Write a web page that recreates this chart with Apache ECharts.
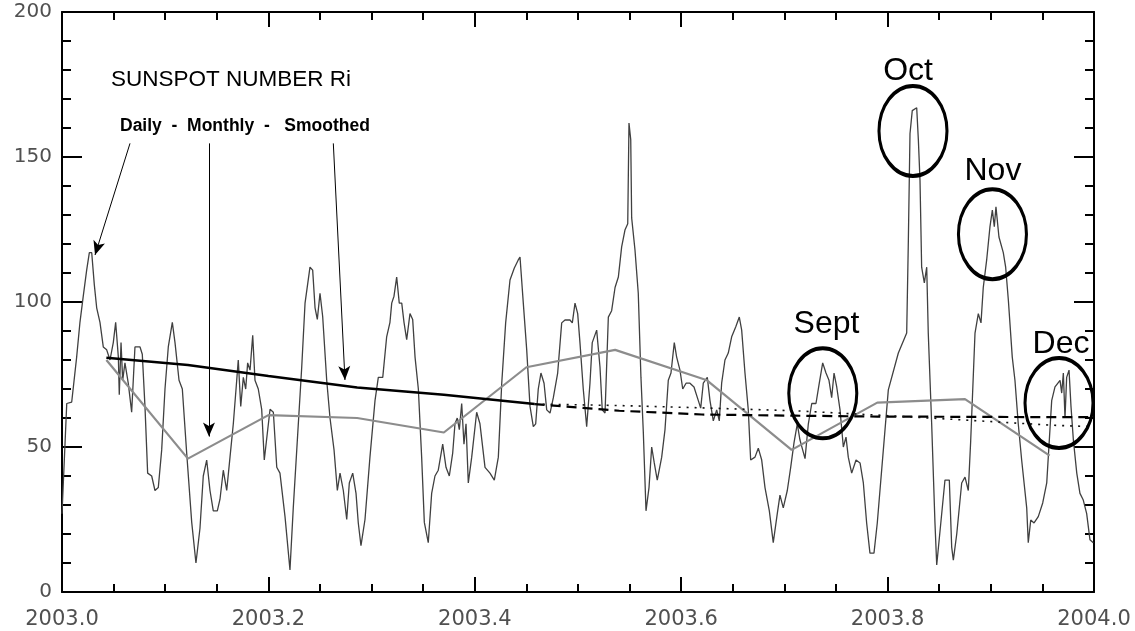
<!DOCTYPE html>
<html>
<head>
<meta charset="utf-8">
<script src="https://cdn.jsdelivr.net/npm/echarts@6/dist/echarts.min.js"></script>
<style>
    html, body { margin: 0; padding: 0; background: #fff; }
    #chart { width: 1135px; height: 631px; }
</style>
</head>
<body>
<div id="chart"></div>
<script>
// Daily sunspot number Ri for 2003 (decimal year / value)
const dailyYear = [
    2003.0000, 2003.0046, 2003.0094, 2003.0142, 2003.0174, 2003.0206, 2003.0239, 2003.0265, 2003.0288, 2003.0313,
    2003.0336, 2003.0368, 2003.0400, 2003.0433, 2003.0465, 2003.0497, 2003.0520, 2003.0546, 2003.0555, 2003.0572,
    2003.0588, 2003.0610, 2003.0642, 2003.0675, 2003.0707, 2003.0756, 2003.0778, 2003.0804, 2003.0830, 2003.0869,
    2003.0901, 2003.0933, 2003.0966, 2003.0998, 2003.1030, 2003.1069, 2003.1095, 2003.1134, 2003.1166, 2003.1208,
    2003.1257, 2003.1298, 2003.1337, 2003.1369, 2003.1402, 2003.1434, 2003.1466, 2003.1505, 2003.1531, 2003.1563,
    2003.1596, 2003.1628, 2003.1660, 2003.1693, 2003.1708, 2003.1732, 2003.1757, 2003.1780, 2003.1799, 2003.1822,
    2003.1848, 2003.1870, 2003.1902, 2003.1935, 2003.1960, 2003.2016, 2003.2048, 2003.2081, 2003.2112, 2003.2161,
    2003.2209, 2003.2241, 2003.2290, 2003.2323, 2003.2355, 2003.2403, 2003.2429, 2003.2452, 2003.2474, 2003.2500,
    2003.2526, 2003.2565, 2003.2597, 2003.2636, 2003.2668, 2003.2694, 2003.2726, 2003.2759, 2003.2784, 2003.2817,
    2003.2849, 2003.2871, 2003.2897, 2003.2936, 2003.2984, 2003.3033, 2003.3065, 2003.3108, 2003.3146, 2003.3178,
    2003.3195, 2003.3217, 2003.3243, 2003.3268, 2003.3292, 2003.3314, 2003.3340, 2003.3372, 2003.3398, 2003.3421,
    2003.3453, 2003.3485, 2003.3511, 2003.3549, 2003.3582, 2003.3614, 2003.3646, 2003.3689, 2003.3721, 2003.3753,
    2003.3786, 2003.3808, 2003.3830, 2003.3850, 2003.3873, 2003.3895, 2003.3915, 2003.3937, 2003.3970, 2003.4018,
    2003.4050, 2003.4099, 2003.4147, 2003.4189, 2003.4228, 2003.4261, 2003.4299, 2003.4341, 2003.4383, 2003.4421,
    2003.4438, 2003.4470, 2003.4503, 2003.4535, 2003.4567, 2003.4590, 2003.4615, 2003.4641, 2003.4671, 2003.4697,
    2003.4729, 2003.4761, 2003.4803, 2003.4842, 2003.4874, 2003.4922, 2003.4945, 2003.4971, 2003.4997, 2003.5019,
    2003.5051, 2003.5084, 2003.5116, 2003.5138, 2003.5181, 2003.5213, 2003.5235, 2003.5262, 2003.5294, 2003.5326,
    2003.5359, 2003.5391, 2003.5423, 2003.5455, 2003.5482, 2003.5494, 2003.5511, 2003.5520, 2003.5552, 2003.5584,
    2003.5610, 2003.5633, 2003.5659, 2003.5688, 2003.5714, 2003.5739, 2003.5768, 2003.5811, 2003.5843, 2003.5875,
    2003.5901, 2003.5933, 2003.5956, 2003.5988, 2003.6015, 2003.6047, 2003.6085, 2003.6124, 2003.6166, 2003.6189,
    2003.6214, 2003.6253, 2003.6279, 2003.6311, 2003.6344, 2003.6369, 2003.6392, 2003.6424, 2003.6456, 2003.6489,
    2003.6528, 2003.6563, 2003.6586, 2003.6618, 2003.6650, 2003.6673, 2003.6715, 2003.6747, 2003.6780, 2003.6812,
    2003.6854, 2003.6892, 2003.6931, 2003.6957, 2003.6989, 2003.7028, 2003.7061, 2003.7093, 2003.7125, 2003.7151,
    2003.7177, 2003.7200, 2003.7232, 2003.7265, 2003.7306, 2003.7338, 2003.7371, 2003.7403, 2003.7432, 2003.7458,
    2003.7481, 2003.7507, 2003.7539, 2003.7571, 2003.7597, 2003.7619, 2003.7652, 2003.7694, 2003.7733, 2003.7765,
    2003.7797, 2003.7829, 2003.7868, 2003.7900, 2003.7926, 2003.8007, 2003.8104, 2003.8185, 2003.8201, 2003.8217,
    2003.8239, 2003.8282, 2003.8298, 2003.8314, 2003.8330, 2003.8356, 2003.8379, 2003.8394, 2003.8427, 2003.8459,
    2003.8476, 2003.8556, 2003.8598, 2003.8621, 2003.8637, 2003.8670, 2003.8718, 2003.8750, 2003.8782, 2003.8805,
    2003.8847, 2003.8879, 2003.8905, 2003.8927, 2003.8960, 2003.8992, 2003.9015, 2003.9034, 2003.9050, 2003.9079,
    2003.9121, 2003.9144, 2003.9170, 2003.9208, 2003.9234, 2003.9266, 2003.9299, 2003.9348, 2003.9363, 2003.9387,
    2003.9419, 2003.9460, 2003.9503, 2003.9542, 2003.9557, 2003.9590, 2003.9622, 2003.9671, 2003.9687, 2003.9703,
    2003.9719, 2003.9735, 2003.9758, 2003.9777, 2003.9800, 2003.9833, 2003.9864, 2003.9896, 2003.9929, 2003.9961,
    2003.9993
];
const dailyRi = [
    27, 65, 65.5, 81, 93, 102, 111, 117, 117, 106,
    98, 93, 84.5, 83.5, 80, 86, 93, 81, 68, 86,
    73, 79, 72, 62, 84.5, 84.5, 82, 64, 41, 40,
    35, 36, 49, 70, 84.5, 93, 86, 73, 70, 48,
    24, 10, 22, 40, 45.5, 35, 28, 28, 32, 42,
    35, 46.5, 58, 73, 80, 64, 74, 70, 79, 76.5,
    88.5, 73, 70, 63, 45.5, 63, 62, 43, 41, 26,
    7.6, 29, 58, 77.6, 99.6, 112, 111, 98, 94, 103,
    95, 73, 60, 49, 35, 41, 35, 25, 37.6, 41,
    34, 23.8, 16, 25, 46.5, 66, 74, 74, 88, 93,
    99.6, 102, 108.6, 99.6, 99.6, 93, 87, 96, 94, 81,
    70, 46.5, 24, 17, 34, 40, 42, 51, 43, 40,
    48, 58, 60, 56, 65, 51, 58, 37.6, 46.5, 62,
    58, 43, 41, 38.6, 46.5, 72, 92.8, 107.6, 111.7, 114.5,
    115.5, 99.6, 83.5, 64, 57, 58, 70, 75.5, 72, 62.8,
    61.7, 67, 75.5, 92.8, 93.8, 93.8, 92.8, 99.6, 96, 86,
    70, 57, 72, 86, 90.3, 77.6, 62.8, 61.7, 94.8, 97,
    105, 108.6, 119, 124.8, 127, 161.7, 156, 129, 118, 103,
    74, 55, 28, 36, 50, 44.5, 38.6, 46.5, 56, 73,
    75.5, 86, 81, 76.5, 70, 72, 72, 70.7, 66, 63.4,
    72, 74, 66, 59, 62.8, 59, 72, 80, 82.4, 88,
    91.4, 94.8, 90.3, 75.5, 62.8, 45.5, 46.5, 49.6, 45.5, 36,
    28, 17, 27, 33.4, 29, 35, 43, 51.4, 58, 52.4,
    49, 46, 58, 65, 65, 72, 79, 75.5, 73, 67,
    75.5, 70.7, 62.8, 50, 53.4, 46.5, 41, 45.5, 44.5, 37.6,
    23.8, 13.4, 13.4, 23.8, 35, 69.7, 82.4, 89.3, 121, 158,
    166, 167, 156, 142, 112, 106.6, 112, 89.3, 58, 23.8,
    9.3, 38.6, 38.6, 15.5, 11, 20, 37.6, 39.6, 35, 52,
    89.3, 96, 92.8, 105, 114.5, 126, 131.7, 126, 132.8, 122.4,
    117, 112, 100.7, 81, 73, 58, 45.5, 29, 17, 24.8,
    23.8, 26, 30.7, 37.6, 46.5, 66, 70.7, 73, 68.6, 75.5,
    60, 74, 76.5, 64, 52.4, 41, 34, 31.7, 27, 18,
    17
];

// Monthly means (grey line)
const monthlyYear = [2003.043, 2003.122, 2003.200, 2003.286, 2003.370, 2003.450, 2003.536, 2003.625, 2003.707, 2003.790, 2003.875, 2003.957];
const monthlyRi = [80, 46, 61, 60, 55, 77.5, 83.5, 73, 49, 65.3, 66.5, 47];

// Smoothed (solid black) and the two forecasts after it (dashed / dotted)
const smoothedYear = [2003.043, 2003.122, 2003.200, 2003.286, 2003.370, 2003.458];
const smoothedRi = [80.8, 78.3, 74.5, 70.5, 68, 64.8];
const forecastYear = [2003.458, 2003.540, 2003.620, 2003.710, 2003.790, 2003.875, 2003.960, 2004.000];
const forecastDashed = [64.8, 62.5, 61.2, 60.8, 60.5, 60.4, 60.3, 60.3];
const forecastDotted = [64.8, 64.3, 63.5, 62.5, 61, 59.3, 57.5, 57];

// Circled months
const circleNames = ['Sept', 'Oct', 'Nov', 'Dec'];
const circleYear = [2003.7372, 2003.8246, 2003.9016, 2003.9661];
const circleRi = [68.5, 159, 123.4, 65.2];
const circleLabelYear = [2003.7408, 2003.8198, 2003.9021, 2003.9680];
const circleLabelRi = [92.5, 179.5, 145, 85.5];

// Text notes and the arrows from "Daily - Monthly - Smoothed"
const titleText = 'SUNSPOT NUMBER Ri';
const titlePos = [2003.0475, 176.6];
const legendText = 'Daily  -  Monthly  -   Smoothed';
const legendPos = [2003.0562, 160.7];
const arrows = [
    [[2003.0659, 154.7], [2003.0320, 116.2]],
    [[2003.1424, 154.7], [2003.1424, 53.6]],
    [[2003.2629, 154.7], [2003.2742, 73.1]]
];

const xTicks = { min: 2003.0, max: 2004.0, interval: 0.2 };
const yTicks = { min: 0, max: 200, interval: 50 };


const zip = (xs, ys) => xs.map((x, i) => [x, ys[i]]);

const chart = echarts.init(document.getElementById('chart'));

const axisLine = { show: true, onZero: false, lineStyle: { color: '#000', width: 2 } };
const labelFont = { color: '#505050', fontFamily: 'DejaVu Sans' };

function xAxis(position, showLabel) {
    return {
        type: 'value', position,
        min: xTicks.min, max: xTicks.max, interval: xTicks.interval,
        axisLine,
        axisTick: { show: true, inside: true, length: 15, lineStyle: { color: '#000', width: 2 } },
        minorTick: { show: true, splitNumber: 4, length: 8, lineStyle: { color: '#000', width: 2 } },
        axisLabel: { show: showLabel, margin: 17, fontSize: 21, ...labelFont, formatter: v => v.toFixed(1) },
        splitLine: { show: false },
        minorSplitLine: { show: false },
    };
}

function yAxis(position, showLabel) {
    return {
        type: 'value', position,
        min: yTicks.min, max: yTicks.max, interval: yTicks.interval,
        axisLine,
        axisTick: { show: true, inside: true, length: 20, lineStyle: { color: '#000', width: 2 } },
        minorTick: { show: true, splitNumber: 5, length: 9, lineStyle: { color: '#000', width: 2 } },
        axisLabel: { show: showLabel, margin: 10, fontSize: 20, ...labelFont },
        splitLine: { show: false },
        minorSplitLine: { show: false },
    };
}

const noteLabel = (text, pos, size, weight, position) => ({
    value: pos,
    label: {
        show: true, position, distance: 0,
        formatter: text,
        fontFamily: 'Liberation Sans', fontSize: size, fontWeight: weight, color: '#000',
    },
});

chart.setOption({
    animation: false,
    backgroundColor: '#fff',
    grid: { left: 62, right: 41, top: 12, bottom: 39 },
    xAxis: [xAxis('bottom', true), xAxis('top', false)],
    yAxis: [yAxis('left', true), yAxis('right', false)],
    series: [
        {
            name: 'Daily', type: 'line', data: zip(dailyYear, dailyRi),
            symbol: 'none', lineStyle: { color: '#404040', width: 1.3 }, z: 2,
        },
        {
            name: 'Monthly', type: 'line', data: zip(monthlyYear, monthlyRi),
            symbol: 'none', lineStyle: { color: '#8c8c8c', width: 2.2 }, z: 3,
        },
        {
            name: 'Smoothed', type: 'line', data: zip(smoothedYear, smoothedRi),
            symbol: 'none', lineStyle: { color: '#000', width: 2.6 }, z: 4,
        },
        {
            name: 'Forecast A', type: 'line', data: zip(forecastYear, forecastDashed),
            symbol: 'none', lineStyle: { color: '#000', width: 2.2, type: [10, 6] }, z: 4,
        },
        {
            name: 'Forecast B', type: 'line', data: zip(forecastYear, forecastDotted),
            symbol: 'none', lineStyle: { color: '#111', width: 1.6, type: [2, 6] }, z: 4,
        },
        {
            name: 'Circles', type: 'scatter', data: zip(circleYear, circleRi),
            symbol: 'circle', symbolSize: [68, 90],
            itemStyle: { color: 'rgba(0,0,0,0)', borderColor: '#000', borderWidth: 3.5, opacity: 1 },
            silent: true, z: 5,
        },
        {
            name: 'Notes', type: 'scatter', symbolSize: 0,
            itemStyle: { color: 'rgba(0,0,0,0)', opacity: 1 },
            silent: true, z: 6,
            data: [
                noteLabel(titleText, titlePos, 22.5, 'normal', 'right'),
                noteLabel(legendText, legendPos, 17.5, 'bold', 'right'),
                ...circleNames.map((n, i) => noteLabel(n, [circleLabelYear[i], circleLabelRi[i]], 32, 'normal', 'inside')),
            ],
            markLine: {
                silent: true,
                symbol: ['none', 'arrow'],
                symbolSize: [9, 14],
                label: { show: false },
                lineStyle: { color: '#000', width: 1, type: 'solid' },
                data: arrows.map(([a, b]) => [{ coord: a }, { coord: b }]),
            },
        },
    ],
});
</script>
</body>
</html>
